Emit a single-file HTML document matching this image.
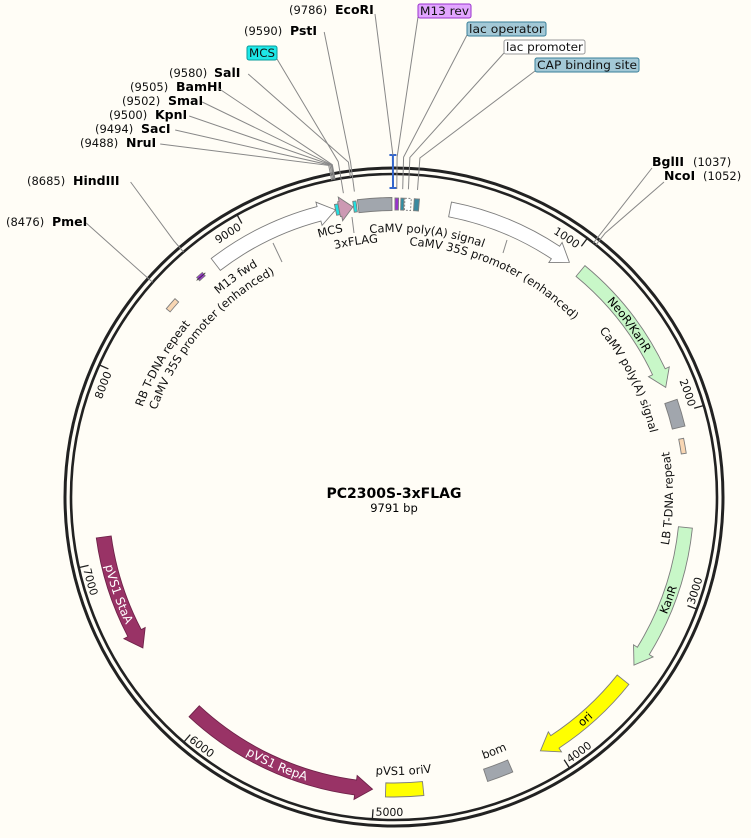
<!DOCTYPE html>
<html><head><meta charset="utf-8">
<style>
html,body{margin:0;padding:0;background:#fffdf6;}
svg{display:block;font-family:"DejaVu Sans","Liberation Sans",sans-serif;}
</style></head>
<body>
<svg id="map" width="751" height="838" viewBox="0 0 751 838" xmlns="http://www.w3.org/2000/svg">
<rect width="751" height="838" fill="#fffdf6"/>
</svg>
<script>
const TOTAL = 9791;
const featNames  = ["CaMV 35S promoter (enhanced)","NeoR/KanR","CaMV poly(A) signal","LB T-DNA repeat","KanR","ori","bom","pVS1 oriV","pVS1 RepA","pVS1 StaA","RB T-DNA repeat","M13 fwd","CaMV 35S promoter (enhanced) 2","MCS","3xFLAG","MCS 2","CaMV poly(A) signal 2","M13 rev","lac operator","lac promoter","CAP binding site"];
const featStart  = [300,1075,1930,2136,2610,3497,4260,4740,5010,6500,8420,8650,8772,9478,9497,9575,9600,5,36,57,106];
const featEnd    = [1000,1850,2075,2216,3400,4080,4400,4940,6065,7130,8490,8690,9478,9497,9572,9592,9780,24,52,90,133];
const featDir    = [1,1,0,0,1,1,0,0,-1,-1,0,0,1,0,1,0,0,0,0,0,0];
const featFill   = ["#ffffff","#c8f7c8","#a1a6ad","#f8d6b3","#c8f7c8","#ffff00","#a1a6ad","#ffff00","#993366","#993366","#f8d6b3","#9933cc","#ffffff","#22e0e0","#cc99b3","#22e0e0","#a1a6ad","#9933cc","#2f8fa6","#ffffff","#3a8aa0"];
const featHalfW  = [7.5,7,6.5,2.5,7,7.5,6.5,7,7.5,7.5,2.5,2.2,7.5,5.5,7.5,5.5,6.5,6,6,6,6];
const innerLabels = ["NeoR/KanR","KanR","ori","pVS1 RepA","pVS1 StaA"];
const innerLabelFeat = [1,4,5,8,9];
const tickVals = [1000,2000,3000,4000,5000,6000,7000,8000,9000];
const enzNames = ["EcoRI","PstI","SalI","BamHI","SmaI","KpnI","SacI","NruI","HindIII","PmeI","BglII","NcoI"];
const enzPos   = [9786,9590,9580,9505,9502,9500,9494,9488,8685,8476,1037,1052];
</script>
<script>
const NS="http://www.w3.org/2000/svg";
const svg=document.getElementById('map');
const cx=394, cy=497, RO=329, RI=323, TR=293;
function ang(bp){return bp/TOTAL*360;}
function pt(a,r){const t=a*Math.PI/180;return [cx+r*Math.sin(t), cy-r*Math.cos(t)];}
function f(p){return p[0].toFixed(2)+" "+p[1].toFixed(2);}
function el(tag,attrs,parent){const e=document.createElementNS(NS,tag);for(const k in attrs)e.setAttribute(k,attrs[k]);(parent||svg).appendChild(e);return e;}
function arcTo(a,r,sweep,a0){const large=Math.abs(a-a0)>180?1:0;return " A "+r+" "+r+" 0 "+large+" "+sweep+" "+f(pt(a,r));}

let c1=el('circle',{cx:cx,cy:cy,r:RO,fill:'none',stroke:'#222',"stroke-width":3});


let c2=el('circle',{cx:cx,cy:cy,r:RI,fill:'none',stroke:'#222',"stroke-width":2.6});



let pathId=0;
function arcText(txt,ac,r,dir,size,fill,name,anchor,offset,weight){
  const id='tp'+(pathId++);
  let d;
  if(anchor==='end'){
    if(dir>0) d="M "+f(pt(ac-70,r))+arcTo(ac,r,1,ac-70);
    else d="M "+f(pt(ac+70,r))+arcTo(ac,r,0,ac+70);
  } else if(anchor==='start'){
    if(dir>0) d="M "+f(pt(ac,r))+arcTo(ac+70,r,1,ac);
    else d="M "+f(pt(ac,r))+arcTo(ac-70,r,0,ac);
  } else {
    if(dir>0) d="M "+f(pt(ac-80,r))+arcTo(ac+80,r,1,ac-80);
    else d="M "+f(pt(ac+80,r))+arcTo(ac-80,r,0,ac+80);
  }
  el('path',{id:id,d:d,fill:'none',stroke:'none'});
  const t=el('text',{"font-size":size,fill:fill,"font-weight":weight||'normal'});
  
  
  const tp=el('textPath',{href:'#'+id,startOffset:offset,"text-anchor":anchor},t);
  tp.textContent=txt;
  return t;
}
tickVals.forEach(v=>{
  const a=ang(v);
  const ln=el('line',{x1:pt(a,RI)[0],y1:pt(a,RI)[1],x2:pt(a,313)[0],y2:pt(a,313)[1],stroke:'#222',"stroke-width":1.3});
  
  
  const upper=(a<90||a>270);
  if(upper) arcText(String(v),a-0.5,308,1,11,'#111','tick-label-'+v,'end','100%');
  else arcText(String(v),a-0.5,319,-1,11,'#111','tick-label-'+v,'start','0%');
});

featNames.forEach((n,i)=>{
  let a1=ang(featStart[i]), a2=ang(featEnd[i]);
  if(a2<a1)a2+=360;
  const w=featHalfW[i], r=TR, H=w+4.5;
  const headA=Math.min(17/r*180/Math.PI,(a2-a1)*0.9);
  let d;
  if(featDir[i]>0){
    const ah=a2-headA;
    d="M "+f(pt(a1,r+w))+arcTo(ah,r+w,1,a1)+" L "+f(pt(ah,r+H))+" L "+f(pt(a2,r))+" L "+f(pt(ah,r-H))+" L "+f(pt(ah,r-w))+arcTo(a1,r-w,0,ah)+" Z";
  } else if(featDir[i]<0){
    const ah=a1+headA;
    d="M "+f(pt(a2,r+w))+arcTo(ah,r+w,0,a2)+" L "+f(pt(ah,r+H))+" L "+f(pt(a1,r))+" L "+f(pt(ah,r-H))+" L "+f(pt(ah,r-w))+arcTo(a2,r-w,1,ah)+" Z";
  } else {
    d="M "+f(pt(a1,r+w))+arcTo(a2,r+w,1,a1)+" L "+f(pt(a2,r-w))+arcTo(a1,r-w,0,a2)+" Z";
  }
  const dashed = n==='lac promoter';
  const p=el('path',{d:d,fill:featFill[i],stroke:featFill[i]==='#993366'?'#6e2248':'#7d7d7d',"stroke-width":0.9,"stroke-dasharray":dashed?'2 1.5':'none'});
  
  
  if(n==='M13 fwd'){
    const q1=pt(a1-0.4,r), q2=pt(a2+0.4,r);
    const ml=el('line',{x1:q1[0],y1:q1[1],x2:q2[0],y2:q2[1],stroke:'#333',"stroke-width":0.8});
    
    
  }
});

innerLabels.forEach((txt,k)=>{
  const i=innerLabelFeat[k];
  let a1=ang(featStart[i]), a2=ang(featEnd[i]);
  const ac=(a1+a2)/2;
  const white=featFill[i]==='#993366';
  const upper=(ac<90||ac>270);
  if(upper) arcText(txt,ac,TR-4,1,11.5,'#000','label-'+txt.toLowerCase().replace(/[^a-z0-9]+/g,'-'),'middle','50%');
  else arcText(txt,ac,TR+4,-1,white?12:11.5,white?'#fff':'#000','label-'+txt.toLowerCase().replace(/[^a-z0-9]+/g,'-'),'middle','50%');
});

[["MCS",346.5,270,1],["3xFLAG",351.5,255,1],["CaMV poly(A) signal",7.2,265,1],
 ["CaMV 35S promoter (enhanced)",24.5,252,1],["CaMV poly(A) signal",63.5,264,1],
 ["LB T-DNA repeat",90.3,279,-1],["bom",158.5,277,-1],["pVS1 oriV",178,278,-1],
 ["M13 fwd",324.3,268,1],["CaMV 35S promoter (enhanced)",311,253,1],["RB T-DNA repeat",300,267,1]
].forEach((L,k)=>{
  arcText(L[0],L[1],L[2],L[3],11.5,'#111','feature-label-'+k,'middle','50%');
});
[[[352,217],[354,233]],[[507,240],[503,253]],[[273,243],[282,262]]].forEach((s,k)=>{
  const l=el('line',{x1:s[0][0],y1:s[0][1],x2:s[1][0],y2:s[1][1],stroke:'#888',"stroke-width":1});
  
  
});

(function(){
  const a=ang(enzPos[0]);
  const p1=pt(a,309),p2=pt(a,342);
  const g=el('g',{stroke:'#3366cc',"stroke-width":2});
  
  
  el('line',{x1:p1[0],y1:p1[1],x2:p2[0],y2:p2[1]},g);
  el('line',{x1:p1[0]-3.5,y1:p1[1],x2:p1[0]+3.5,y2:p1[1]},g);
  el('line',{x1:p2[0]-3.5,y1:p2[1],x2:p2[0]+3.5,y2:p2[1]},g);
})();

const enzLayout=[[289,335,14,'L'],[244,290,35,'L'],[169,214,77,'L'],[130,176,91,'L'],[122,168,105,'L'],[109,155,119,'L'],[95,141,133,'L'],[80,126,147,'L'],[27,73,185,'L'],[6,52,226,'L'],[693,652,166,'R'],[703,664,180,'R']];
enzNames.forEach((n,i)=>{
  const L=enzLayout[i];
  const a=ang(enzPos[i]);
  const num=el('text',{x:L[0],y:L[2],"font-size":11.5,fill:'#111'});
  num.textContent='('+enzPos[i]+')';
  
  
  const nm=el('text',{x:L[1],y:L[2],"font-size":12.5,"font-weight":'bold',fill:'#000'});
  nm.textContent=n;
  
  
  let sx,sy;
  if(L[3]==='L'){ sx=L[1]+n.length*7.8+3; sy=L[2]-3; }
  else { sx=L[1]; sy=L[2]+2; }
  let pts;
  if(i===0){ const k=pt(a,342); pts=[[sx-2,sy+3],k]; }
  else {
    const k=pt(a,338), e=pt(a,i===1?308:RI);
    pts=[[sx,sy],k,e];
  }
  const pl=el('polyline',{points:pts.map(p=>p[0].toFixed(1)+','+p[1].toFixed(1)).join(' '),fill:'none',stroke:'#888',"stroke-width":1});
  
  
});

const boxLabels=[["MCS",247,46,30,"#1ee8e8","#0a9a9a",9534],["M13 rev",418,4,53,"#e2a6ff","#9933cc",14],["lac operator",467,22,79,"#a3c8d6","#3a7f99",44],["lac promoter",504,40,81,"#ffffff","#999999",73],["CAP binding site",535,58,104,"#a3c8d6","#3a7f99",119]];
boxLabels.forEach((b,k)=>{
  const g=el('g',{});
  
  
  const a=ang(b[6]);
  const k1=pt(a,340), k2=pt(a,308);
  const sx = k===0 ? b[1]+b[3] : b[1];
  const sy = b[2]+13;
  el('polyline',{points:sx+','+sy+' '+k1[0].toFixed(1)+','+k1[1].toFixed(1)+' '+k2[0].toFixed(1)+','+k2[1].toFixed(1),fill:'none',stroke:'#888',"stroke-width":1},g);
  el('rect',{x:b[1],y:b[2],width:b[3],height:14,rx:2,fill:b[4],stroke:b[5],"stroke-width":1},g);
  const t=el('text',{x:b[1]+b[3]/2,y:b[2]+11,"font-size":11.5,"text-anchor":'middle',fill:'#111',textLength:b[3]-4,lengthAdjust:'spacingAndGlyphs'},g);
  t.textContent=b[0];
});

const t1=el('text',{x:cx,y:498,"font-size":14,"font-weight":'bold',"text-anchor":'middle',fill:'#000'});
t1.textContent='PC2300S-3xFLAG';


const t2=el('text',{x:cx,y:512,"font-size":11.5,"text-anchor":'middle',fill:'#000'});
t2.textContent='9791 bp';


</script>
</body></html>
